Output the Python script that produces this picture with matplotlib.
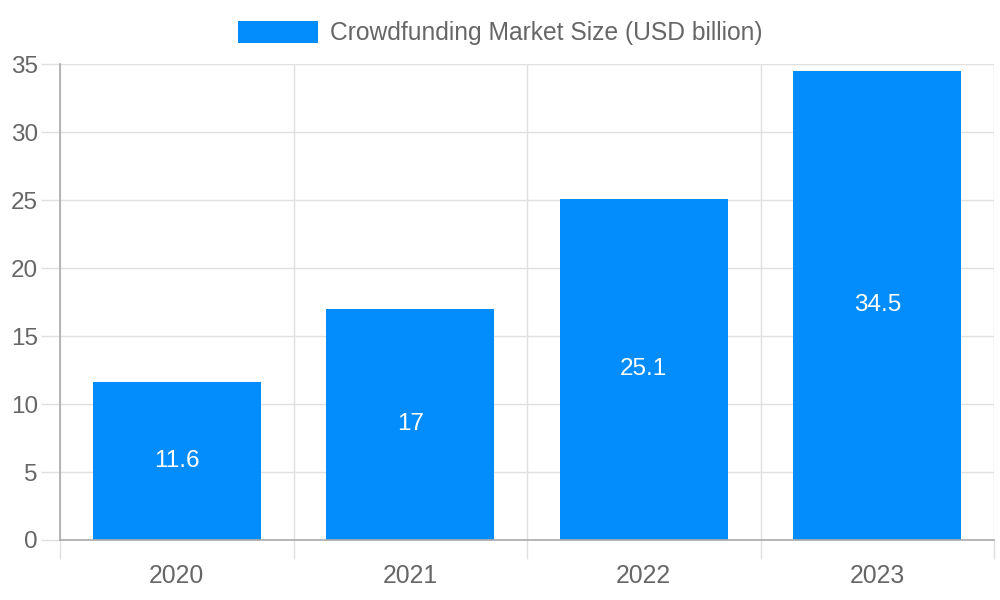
import matplotlib
matplotlib.use("Agg")
import matplotlib.pyplot as plt
from matplotlib.patches import Patch

years = ["2020", "2021", "2022", "2023"]
values = [11.6, 17, 25.1, 34.5]
series_label = "Crowdfunding Market Size (USD billion)"
y_ticks = [0, 5, 10, 15, 20, 25, 30, 35]

BAR = "#038cfc"
TXT = "#666666"
GRID = "#e0e0e0"
AXIS = "#aaaaaa"

plt.rcParams['font.family'] = ['Liberation Sans', 'DejaVu Sans']

fig = plt.figure(figsize=(10, 6), dpi=100)
ax = fig.add_axes([0.060, 0.100, 0.934, 0.7933])

x = list(range(len(years)))
bars = ax.bar(x, values, width=0.72, color=BAR, zorder=3)

for xi, v in zip(x, values):
    ax.text(xi, v / 2, f"{v:g}", ha="center", va="center", color="white",
            fontsize=17.5, zorder=4)

ax.set_xlim(-0.5, len(years) - 0.5)
ax.set_ylim(0, 35)
ax.set_yticks(y_ticks)
ax.set_xticks(x)
ax.set_xticklabels(years)
ax.set_xticks([i - 0.5 for i in range(len(years) + 1)], minor=True)

ax.tick_params(axis="x", which="major", length=0, pad=17, labelsize=17.8, labelcolor=TXT)
ax.tick_params(axis="x", which="minor", length=14, width=1, color=GRID)
ax.tick_params(axis="y", which="major", length=14, width=1, color=GRID, pad=2,
               labelsize=17.5, labelcolor=TXT)

ax.grid(True, axis="y", which="major", color=GRID, linewidth=1, zorder=0)
ax.grid(True, axis="x", which="minor", color=GRID, linewidth=1, zorder=0)
ax.set_axisbelow(True)

for s in ["top", "right"]:
    ax.spines[s].set_visible(False)
for s in ["left", "bottom"]:
    ax.spines[s].set_color(AXIS)
    ax.spines[s].set_linewidth(1.2)
    ax.spines[s].set_zorder(5)

fs = 17.7
handle = Patch(facecolor=BAR, edgecolor="none")
leg = fig.legend([handle], [series_label], loc="upper center",
                 bbox_to_anchor=(0.5, 0.965), frameon=False, fontsize=fs,
                 handlelength=80 / (fs / 0.72), handleheight=24 / (fs / 0.72),
                 handletextpad=0.5, borderaxespad=0, borderpad=0)
for t in leg.get_texts():
    t.set_color(TXT)

fig.savefig("out.png", dpi=100)
